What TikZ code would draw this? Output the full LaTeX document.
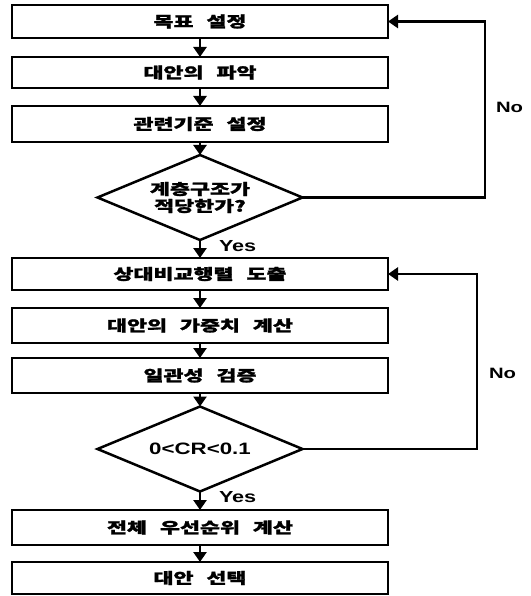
\documentclass[tikz,border=0pt]{standalone}
\usepackage{fontspec}
\setmainfont{Liberation Sans}
\newfontfamily\kr{Noto Sans CJK KR}[FakeStretch=1.45,WordSpace=2.6,FakeBold=1.5]
\newfontfamily\lat{Liberation Sans}[FakeStretch=1.35]
\usetikzlibrary{shapes.geometric,arrows.meta}
\begin{document}
\begin{tikzpicture}[x=1pt,y=-1pt,
  every node/.style={inner sep=0pt,outer sep=0pt},
  stepbox/.style={draw,line width=2.5pt,minimum width=376pt,font=\kr\bfseries\fontsize{15}{17}\selectfont},
  decision/.style={draw,diamond,line width=2.5pt,aspect=2.41,minimum width=205pt,minimum height=85pt,align=center,font=\kr\bfseries\fontsize{15}{16}\selectfont},
  flow/.style={line width=2.5pt,-{Triangle[width=13pt,length=10pt]}},
  lbl/.style={font=\lat\bfseries\fontsize{15}{17}\selectfont,anchor=west}]
\useasboundingbox (0,0) rectangle (530,596);
\node[stepbox,minimum height=33pt] (b1) at (200,21.5) {목표 설정};
\node[stepbox,minimum height=31pt] (b2) at (200,72.5) {대안의 파악};
\node[stepbox,minimum height=36pt] (b3) at (200,124) {관련기준 설정};
\node[decision] (d1) at (200,197.5) {계층구조가\\[1pt]적당한가?};
\node[stepbox,minimum height=32pt] (b4) at (200,274) {상대비교행렬 도출};
\node[stepbox,minimum height=35pt] (b5) at (200,325.5) {대안의 가중치 계산};
\node[stepbox,minimum height=35pt] (b6) at (200,375.5) {일관성 검증};
\node[decision,font=\lat\bfseries\fontsize{16.5}{18}\selectfont] (d2) at (200,449) {0<CR<0.1};
\node[stepbox,minimum height=35pt] (b7) at (200,527.5) {전체 우선순위 계산};
\node[stepbox,minimum height=32pt] (b8) at (200,578) {대안 선택};
\coordinate (r1a) at (485,197.5);
\coordinate (r1b) at (485,21.5);
\coordinate (r2a) at (477,449);
\coordinate (r2b) at (477,274);
\draw[flow] (b1) -- (b2);
\draw[flow] (b2) -- (b3);
\draw[flow] (b3) -- (d1);
\draw[flow] (d1) -- (b4);
\draw[flow] (b4) -- (b5);
\draw[flow] (b5) -- (b6);
\draw[flow] (b6) -- (d2);
\draw[flow] (d2) -- (b7);
\draw[flow] (b7) -- (b8);
\draw[flow,line join=miter] (d1.east) -- (r1a) -- (r1b) -- (b1.east);
\draw[flow,line join=miter] (d2.east) -- (r2a) -- (r2b) -- (b4.east);
\node[lbl] (no1) at (496,107) {No};
\node[lbl] (no2) at (489,373) {No};
\node[lbl,font=\lat\bfseries\fontsize{16}{18}\selectfont] (yes1) at (219,246) {Yes};
\node[lbl,font=\lat\bfseries\fontsize{16}{18}\selectfont] (yes2) at (219,497) {Yes};
\end{tikzpicture}
\end{document}
